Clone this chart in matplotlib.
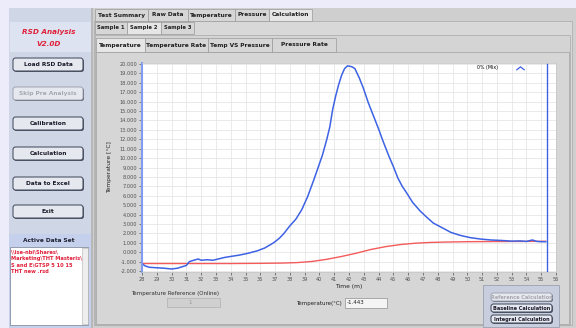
import matplotlib
matplotlib.use("Agg")
import matplotlib.pyplot as plt
from matplotlib.patches import Rectangle, FancyBboxPatch
from matplotlib.lines import Line2D

# Daten ---------------------------------------
zeit_probe = [28.0, 28.2, 28.5, 29.0, 29.5, 30.0, 30.4, 30.7, 31.0, 31.2, 31.5, 31.8,
              32.0, 32.4, 32.8, 33.2, 33.6, 34.0, 34.6, 35.2, 35.8, 36.3, 36.9, 37.3,
              37.6, 38.0, 38.4, 38.8, 39.2, 39.6, 40.0, 40.2, 40.5, 40.7, 40.9, 41.1,
              41.3, 41.5, 41.7, 41.9, 42.2, 42.4, 42.7, 43.0, 43.3, 43.6, 44.0, 44.3,
              44.7, 45.0, 45.3, 45.6, 45.9, 46.3, 46.8, 47.2, 47.7, 48.3, 48.9, 49.5,
              50.2, 50.9, 51.6, 52.3, 53.0, 53.6, 54.0, 54.4, 54.7, 55.0, 55.3]
temp_probe = [-1.2, -1.45, -1.6, -1.65, -1.7, -1.78, -1.7, -1.55, -1.4, -1.0, -0.85, -0.72,
              -0.85, -0.8, -0.85, -0.7, -0.55, -0.45, -0.3, -0.1, 0.15, 0.45, 1.0, 1.5,
              2.0, 2.8, 3.5, 4.5, 5.9, 7.6, 9.4, 10.3, 12.0, 13.3, 15.2, 16.6,
              17.8, 18.8, 19.5, 19.8, 19.7, 19.5, 18.5, 17.3, 15.9, 14.7, 13.1, 11.8,
              10.2, 9.1, 7.9, 7.0, 6.3, 5.3, 4.4, 3.8, 3.1, 2.6, 2.1, 1.8,
              1.55, 1.4, 1.3, 1.25, 1.18, 1.2, 1.15, 1.3, 1.15, 1.12, 1.12]

zeit_ref = [28.0, 30.0, 32.0, 34.0, 36.0, 37.5, 38.5, 39.5, 40.5, 41.5, 42.5, 43.5,
            44.5, 45.5, 46.5, 47.5, 48.5, 50.0, 52.0, 54.0, 55.3]
temp_ref = [-1.2, -1.2, -1.2, -1.2, -1.18, -1.15, -1.1, -0.98, -0.75, -0.45, -0.1, 0.3,
            0.6, 0.82, 0.96, 1.04, 1.08, 1.12, 1.14, 1.15, 1.16]

cursor_zeit = 55.4
x_ticks = list(range(28, 57))
y_ticks = list(range(-2, 21))

tabs_oben = ["Test Summary", "Raw Data", "Temperature", "Pressure", "Calculation"]
tabs_probe = ["Sample 1", "Sample 2", "Sample 3"]
tabs_grafik = ["Temperature", "Temperature Rate", "Temp VS Pressure", "Pressure Rate"]
knoepfe = ["Load RSD Data", "Skip Pre Analysis", "Calibration", "Calculation",
           "Data to Excel", "Exit"]
datei_zeilen = ["\\\\ise-nbi\\Shares\\", "Marketing\\THT Masteris\\",
                "S and E\\GTSP 5 10 15", "THT new .rsd"]

BLAU = "#3d62e4"
ROT = "#f45a5a"

fig = plt.figure(figsize=(5.76, 3.28), dpi=100)

###hintergrund--------------
bg = fig.add_axes([0, 0, 1, 1])
bg.set_xlim(0, 576)
bg.set_ylim(328, 0)
bg.axis("off")


def rechteck(x, y, b, h, farbe, rand="none", lw=0.6, z=1):
    bg.add_patch(Rectangle((x, y), b, h, facecolor=farbe, edgecolor=rand, lw=lw, zorder=z))


def knopf(x, y, b, h, text, aktiv=True, fs=4.2):
    bg.add_patch(FancyBboxPatch((x + 1, y + 1), b, h, boxstyle="round,pad=0,rounding_size=2.5",
                                facecolor="#5a6070", edgecolor="none", zorder=3))
    bg.add_patch(FancyBboxPatch((x, y), b, h, boxstyle="round,pad=0,rounding_size=2.5",
                                facecolor="#e6e8ef", edgecolor="#3a4255" if aktiv else "#a0a4b0",
                                lw=0.7, zorder=4))
    bg.text(x + b / 2, y + h / 2 + 0.3, text, ha="center", va="center", fontsize=fs,
            fontweight="bold", color="#1a1a2a" if aktiv else "#a8a8b0", zorder=5)


rechteck(0, 0, 576, 328, "#ececfb", z=0)
rechteck(9, 8, 567, 320, "#cfcfcf")

# linkes Panel
rechteck(9, 8, 83, 226, "#cfd6e6")
rechteck(10, 22, 81, 30, "#dde3f1")
bg.text(49, 32, "RSD Analysis", ha="center", va="center", fontsize=5.2,
        fontweight="bold", style="italic", color="#e0203a")
bg.text(49, 44, "V2.0D", ha="center", va="center", fontsize=5.2,
        fontweight="bold", style="italic", color="#e0203a")
knopf_y = [58, 87, 117, 147, 177, 205]
for ky, text in zip(knopf_y, knoepfe):
    knopf(13, ky, 70, 13, text, aktiv=(text != "Skip Pre Analysis"))

rechteck(9, 234, 83, 94, "#c4d0ec")
bg.text(49, 241, "Active Data Set", ha="center", va="center", fontsize=4.2,
        fontweight="bold", color="#202030")
rechteck(10, 247, 78, 78, "white", rand="#8890a0")
rechteck(82, 248, 6, 76, "#eeeeee", rand="#b0b0b0", lw=0.4)
for i, zeile in enumerate(datei_zeilen):
    bg.text(11, 252 + i * 6.5, zeile, ha="left", va="center", fontsize=3.7,
            fontweight="bold", color="#e0203a")
rechteck(91, 8, 2, 320, "#b8b8b8")

# Reiter
def reiter_reihe(texte, grenzen, y, h, aktiv, fs=4.2):
    for i, text in enumerate(texte):
        x0, x1 = grenzen[i], grenzen[i + 1]
        farbe = "#e6e6e6" if i == aktiv else "#d6d6d6"
        rechteck(x0, y, x1 - x0, h, farbe, rand="#9a9a9a", lw=0.5, z=2)
        bg.text((x0 + x1) / 2, y + h / 2, text, ha="center", va="center", fontsize=fs,
                fontweight="bold", color="#202020", zorder=3)


rechteck(94, 21, 478, 304, "#d8d8d8", rand="#a8a8a8", lw=0.5)
reiter_reihe(tabs_oben, [95, 148, 188, 235, 269, 312], 9, 12, 4)
reiter_reihe(tabs_probe, [95, 127, 161, 194], 22, 12, 1, fs=3.8)
rechteck(95, 35, 475, 290, "#d4d4d4", rand="#a8a8a8", lw=0.5)
reiter_reihe(tabs_grafik, [96, 145, 208, 272, 336], 38, 14, 0)
rechteck(96, 52, 473, 272, "#d6d6d6", rand="#a0a0a0", lw=0.5)

# untere Bedienelemente
bg.text(175, 293, "Temperature Reference (Online)", ha="center", va="center",
        fontsize=4.0, color="#303030")
rechteck(167, 298, 53, 9, "#d0d0d0", rand="#b0b0b0", lw=0.5)
bg.text(190, 302.5, "1", ha="center", va="center", fontsize=4, color="#9a9a9a")
bg.text(342, 303, "Temperature(°C)", ha="right", va="center", fontsize=4.0, color="#202020")
rechteck(345, 298, 42, 10, "#f4f4f4", rand="#909090", lw=0.5)
bg.text(347, 303, "-1.443", ha="left", va="center", fontsize=4.0, color="#202020")

rechteck(483, 285, 76, 42, "#c8cede", rand="#9aa0b0", lw=0.6)
knopf(491, 293, 61, 8, "Reference Calculation", aktiv=False, fs=3.6)
knopf(491, 304, 61, 8, "Baseline Calculation", fs=3.6)
knopf(491, 315, 61, 8, "Integral Calculation", fs=3.6)

###diagramm--------------
ax = fig.add_axes([142 / 576, 1 - 272 / 328, 414 / 576, 209 / 328])
ax.set_facecolor("white")
ax.plot(zeit_ref, temp_ref, color=ROT, lw=1.0)
ax.plot(zeit_probe, temp_probe, color=BLAU, lw=1.1)
ax.axvline(cursor_zeit, color=BLAU, lw=1.0)

ax.set_xlim(28, 56)
ax.set_ylim(-2.1, 20.1)
ax.set_xticks(x_ticks)
ax.set_yticks(y_ticks)
ax.set_yticklabels([f"{v:.3f}" for v in y_ticks])
ax.grid(True, color="#e6e6e6", lw=0.6)
ax.tick_params(axis="both", labelsize=3.6, length=2, width=0.5, pad=1.5,
               colors="#505050")
ax.set_xlabel("Time (m)", fontsize=4.3, labelpad=1.5, color="#202020")
ax.set_ylabel("Temperature [°C]", fontsize=4.3, labelpad=5, color="#202020")
for seite in ["top", "right", "bottom"]:
    ax.spines[seite].set_color("#c8c8c8")
    ax.spines[seite].set_linewidth(0.6)
ax.spines["left"].set_color("#7f9cf0")
ax.spines["left"].set_linewidth(1.5)

# Legende: kleines offenes Dach-Symbol rechts vom Text
dach = [(-1.0, -0.4), (0.0, 0.4), (1.0, -0.4)]
griff = Line2D([], [], color=BLAU, ls="none", marker=dach, markersize=6,
               markerfacecolor="none", markeredgewidth=0.9)
ax.legend([griff], ["0% (Mix)"], loc="upper right", bbox_to_anchor=(0.93, 1.01),
          frameon=False, fontsize=3.4, markerfirst=False, handlelength=1.2,
          handletextpad=4)

plt.savefig("out.png", dpi=100)
